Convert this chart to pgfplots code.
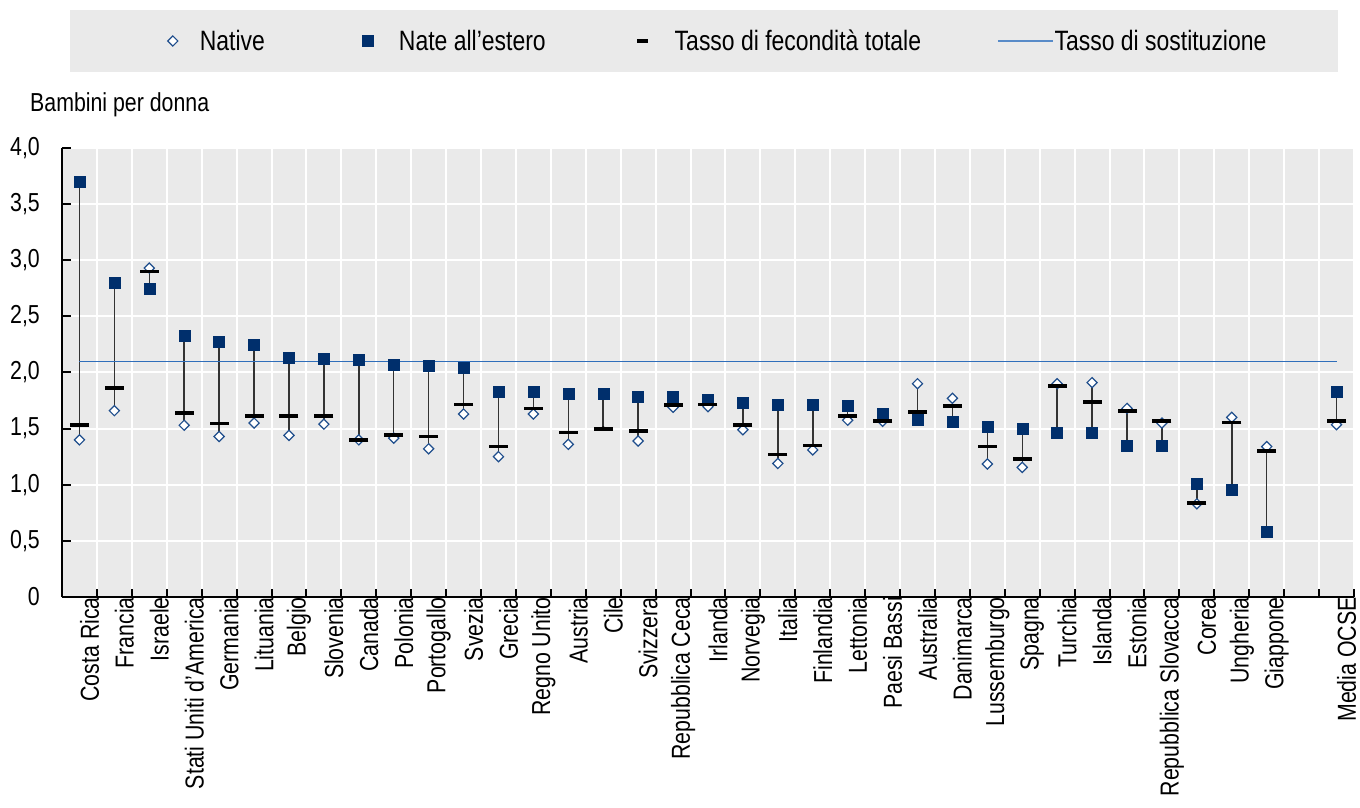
\documentclass[border=0pt]{standalone}
\usepackage{fontspec}
\IfFontExistsTF{Liberation Sans Narrow}{\setmainfont{Liberation Sans Narrow}}{\setmainfont{Liberation Sans}[FakeStretch=0.82]}
\usepackage{pgfplots}
\usepackage{pgfplotstable}
\pgfplotsset{compat=1.18}

\definecolor{bggray}{HTML}{EAEAEA}
\definecolor{navy}{HTML}{002F6C}
\definecolor{natblue}{HTML}{1F4E8C}
\definecolor{repl}{HTML}{2F6EBA}

% x: slot, nat: native, for: foreign-born, tfr: total, lo/hi: ends of the stem
\pgfplotstableread{
x  nat   for   tfr   lo    hi
0  1.40  3.70  1.535 1.40  3.70
1  1.66  2.80  1.865 1.66  2.80
2  2.93  2.75  2.90  2.75  2.93
3  1.53  2.33  1.64  1.53  2.33
4  1.43  2.27  1.545 1.43  2.27
5  1.55  2.25  1.615 1.55  2.25
6  1.44  2.135 1.61  1.44  2.135
7  1.54  2.12  1.615 1.54  2.12
8  1.40  2.11  1.40  1.40  2.11
9  1.415 2.07  1.446 1.415 2.07
10 1.32  2.065 1.43  1.32  2.065
11 1.63  2.04  1.715 1.63  2.04
12 1.25  1.83  1.34  1.25  1.83
13 1.63  1.83  1.68  1.63  1.83
14 1.36  1.815 1.465 1.36  1.815
15 nan   1.81  1.50  1.50  1.81
16 1.39  1.78  1.48  1.39  1.78
17 1.69  1.78  1.713 1.69  1.78
18 1.695 1.76  1.715 1.695 1.76
19 1.49  1.735 1.535 1.49  1.735
20 1.19  1.715 1.27  1.19  1.715
21 1.31  1.71  1.35  1.31  1.71
22 1.575 1.70  1.615 1.575 1.70
23 1.565 1.63  1.57  1.565 1.63
24 1.90  1.58  1.65  1.58  1.90
25 1.77  1.565 1.705 1.565 1.77
26 1.185 1.52  1.34  1.185 1.52
27 1.155 1.50  1.23  1.155 1.50
28 1.90  1.46  1.88  1.46  1.90
29 1.91  1.46  1.74  1.46  1.91
30 1.68  1.35  1.66  1.35  1.68
31 1.55  1.35  1.57  1.35  1.57
32 0.83  1.01  0.84  0.83  1.01
33 1.60  0.96  1.555 0.96  1.60
34 1.34  0.585 1.30  0.585 1.34
36 1.535 1.83  1.57  1.535 1.83
}\data

\begin{document}
\begin{tikzpicture}
\path[use as bounding box] (-62bp,-211bp) rectangle (1298bp,597bp);
\begin{axis}[
    scale only axis,
    width=1292bp, height=449bp,
    at={(0,0)}, anchor=south west,
    clip=false,
    font=\fontsize{26bp}{30bp}\selectfont,
    axis lines*=left,
    axis line style={black, line width=2bp},
    axis background/.style={fill=bggray},
    xmin=-0.5, xmax=36.5, ymin=0, ymax=4,
    xtick={0,...,34,36},
    xticklabels={Costa Rica,Francia,Israele,Stati Uniti d'America,Germania,Lituania,Belgio,Slovenia,Canada,Polonia,Portogallo,Svezia,Grecia,Regno Unito,Austria,Cile,Svizzera,Repubblica Ceca,Irlanda,Norvegia,Italia,Finlandia,Lettonia,Paesi Bassi,Australia,Danimarca,Lussemburgo,Spagna,Turchia,Islanda,Estonia,Repubblica Slovacca,Corea,Ungheria,Giappone,Media OCSE},
    xticklabel style={font=\fontsize{26bp}{30bp}\selectfont, rotate=90, anchor=east, inner sep=0pt, yshift=-10bp},
    minor xtick={-0.5,0.5,...,36.5},
    major x tick style={draw=none},
    minor x tick style={black, line width=2bp},
    minor tick length=8bp,
    ytick={0,0.5,...,4},
    yticklabels={0,{0,5},{1,0},{1,5},{2,0},{2,5},{3,0},{3,5},{4,0}},
    yticklabel style={anchor=east, inner sep=0pt, xshift=-22bp},
    major y tick style={black, line width=2bp},
    major tick length=9bp,
    xmajorgrids=false, xminorgrids=true, ymajorgrids=true,
    grid style={white, line width=2bp},
    /pgf/number format/assume math mode=true,
    legend columns=4,
    legend cell align=left,
    legend style={at={(rel axis cs:0.08166,1.2383)}, anchor=west,
        fill=none, draw=none, inner sep=0pt,
        nodes={inner sep=0pt},
        font=\fontsize{28bp}{32bp}\selectfont,
        /tikz/every odd column/.append style={column sep=22bp},
        /tikz/every even column/.append style={column sep=97bp}},
]
% legend panel
\fill[bggray] (rel axis cs:0.00619,1.16927) rectangle (rel axis cs:0.98762,1.30735);
% stems between the lowest and highest value
\addplot[only marks, mark=none, forget plot,
    error bars/.cd, y dir=plus, y explicit, error mark=none,
    error bar style={draw=black!80, line width=1.5bp, solid}]
    table[x=x, y=lo, y error expr=\thisrow{hi}-\thisrow{lo}] {\data};
% replacement rate
\addplot[color=repl, line width=1.5bp, forget plot] coordinates {(0,2.1) (36,2.1)};
\addplot[only marks, mark=square*, mark size=3.6bp,
    mark options={rotate=45, draw=natblue, fill=white, line width=1.2bp}]
    table[x=x, y=nat] {\data};
\addlegendentry{Native}
\addplot[only marks, mark=square*, mark size=5.5bp,
    mark options={draw=navy, fill=navy}]
    table[x=x, y=for] {\data};
\addlegendentry{\hspace{4bp}Nate all'estero\kern-6bp}
\addplot[only marks, mark=-, mark size=9.5bp,
    mark options={draw=black, line width=3.8bp},
    legend image post style={mark size=5.5bp}]
    table[x=x, y=tfr] {\data};
\addlegendentry{\hspace{5bp}Tasso di fecondità totale\kern-21bp}
\addlegendimage{legend image code/.code={\draw[repl!80, line width=1.5bp] (0bp,0bp) -- (55bp,0bp);}}
\addlegendentry{\hspace{-21bp}Tasso di sostituzione}
\node[anchor=base west, inner sep=0pt, xshift=-32bp, yshift=36bp] at (rel axis cs:0,1) {Bambini per donna};
\end{axis}
\end{tikzpicture}
\end{document}
